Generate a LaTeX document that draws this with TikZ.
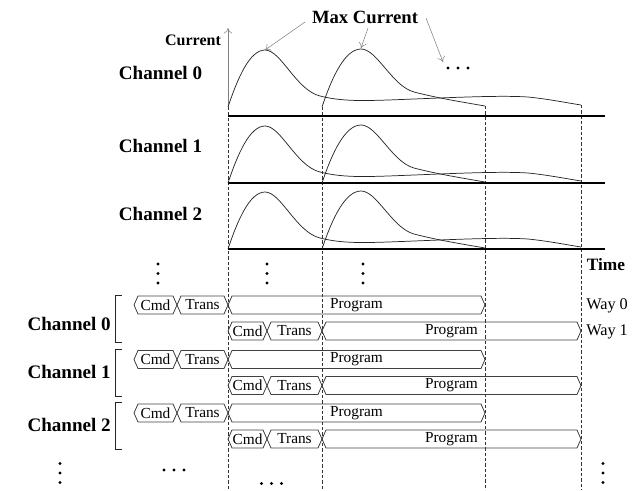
\documentclass[tikz,border=0pt]{standalone}
\usepackage{fontspec}
\setmainfont{Liberation Serif}
\usetikzlibrary{arrows.meta}
\begin{document}
\begin{tikzpicture}[x=0.75pt,y=-0.75pt,
  chlabel/.style={font=\fontsize{14.3}{16}\selectfont\bfseries, inner sep=0pt},
  smalllabel/.style={font=\fontsize{12}{14}\selectfont\bfseries, inner sep=0pt},
  waylabel/.style={font=\fontsize{12.2}{14}\selectfont, inner sep=0pt, anchor=west},
  bustext/.style={font=\fontsize{11.5}{13}\selectfont, inner sep=0pt},
  busline/.style={draw=black!75, line width=0.6pt, line join=miter},
  wave/.style={draw=black!85, line width=0.55pt},
  baseline/.style={draw=black, line width=1.4pt},
  guide/.style={draw=black!80, line width=0.5pt, dash pattern=on 2.4pt off 1.6pt},
  pointer/.style={draw=black!50, line width=0.4pt, -{To[length=4pt,width=6pt]}},
  bracket/.style={draw=black!85, line width=0.6pt},
  pulseA/.pic={\draw[wave] (0,0) .. controls (10,-30) and (22,-57) .. (37,-57)
      .. controls (53,-57) and (68,-17) .. (92,-11)
      .. controls (112,-6) and (130,-6) .. (160,-7)
      .. controls (215,-9) and (270,-12) .. (300,-10)
      .. controls (320,-8) and (340,-4) .. (353,-2);},
  pulseB/.pic={\draw[wave] (0,0) .. controls (10,-30) and (23,-58) .. (39,-58)
      .. controls (55,-58) and (70,-21) .. (92,-15)
      .. controls (115,-9) and (140,-5) .. (163,-1);},
]
\useasboundingbox (0,0) rectangle (638,490);

% dot marks: vertical and horizontal ellipses
\newcommand\vdotmark[2]{\foreach \d in {-9.5,0,9.5} \fill (#1,#2+\d) circle[radius=1.15pt];}
\newcommand\hdotmark[2]{\foreach \d in {-10,0,10} \fill (#1+\d,#2) circle[radius=1.15pt];}
% one hexagonal bus segment: x1, x2, centre y, name, text
\newcommand\busseg[5]{%
  \draw[busline] (#1,#3) -- (#1+4,#3-9) -- (#2-4,#3-9) -- (#2,#3)
     -- (#2-4,#3+9) -- (#1+4,#3+9) -- cycle;
  \node[bustext] (#4) at ({(#1+#2)/2},#3) {#5};}
% two ways of one channel: way-0 centre y, way-1 centre y, name prefix
\newcommand\channelrows[3]{%
  \busseg{134}{177}{#1}{#3cmdA}{Cmd}
  \busseg{177}{228}{#1}{#3trA}{Trans}
  \busseg{228}{485}{#1}{#3prA}{Program}
  \busseg{228}{267}{#2}{#3cmdB}{Cmd}
  \busseg{267}{322}{#2}{#3trB}{Trans}
  \busseg{322}{581}{#2}{#3prB}{Program}}

% time guides
\draw[guide] (228,107) -- (228,490);
\draw[guide] (322,107) -- (322,490);
\draw[guide] (485,106) -- (485,490);
\draw[guide] (581,105) -- (581,490);

% current axis
\coordinate (axbot) at (228,107);
\coordinate (axtop) at (228,28);
\draw[pointer] (axbot) -- (axtop);
\node[smalllabel] (curlab) at (193,40) {Current};

% channel baselines
\draw[baseline] (228,116) -- (605,116);
\draw[baseline] (228,183) -- (605,183);
\draw[baseline] (228,249) -- (605,249);

% current pulses
\pic at (228,107) {pulseA};
\pic at (322,107) {pulseB};
\pic at (228,183) {pulseA};
\pic at (322,183) {pulseB};
\pic at (228,249) {pulseA};
\pic at (322,249) {pulseB};

% peak annotations
\node[chlabel, font=\fontsize{14}{16}\selectfont\bfseries] (maxc) at (365,17) {Max Current};
\coordinate (p1) at (265,50);
\coordinate (p2) at (361,48);
\coordinate (p3) at (443,62);
\coordinate (s1) at (305,22);
\coordinate (s2) at (368,28);
\coordinate (s3) at (426,18);
\draw[pointer] (s1) -- (p1);
\draw[pointer] (s2) -- (p2);
\draw[pointer] (s3) -- (p3);
\hdotmark{458}{68}

% channel names (current view)
\node[chlabel] (c0) at (160.5,73) {Channel 0};
\node[chlabel] (c1) at (160.5,146) {Channel 1};
\node[chlabel] (c2) at (160.5,214) {Channel 2};
\vdotmark{158}{273.5}
\vdotmark{267}{273.5}
\vdotmark{363}{273.5}
\node[chlabel, font=\fontsize{13}{15}\selectfont\bfseries] (tlab) at (606,265) {Time};

% operation timeline
\channelrows{305}{331}{a}
\channelrows{359.5}{385.5}{b}
\channelrows{413}{439}{c}

\draw[bracket] (122,295) -- (115,295) -- (115,342) -- (122,342);
\draw[bracket] (122,349) -- (115,349) -- (115,396) -- (122,396);
\draw[bracket] (122,402) -- (115,402) -- (115,449) -- (122,449);
\node[chlabel, anchor=east] (d0) at (111,324) {Channel 0};
\node[chlabel, anchor=east] (d1) at (111,372) {Channel 1};
\node[chlabel, anchor=east] (d2) at (111,425) {Channel 2};

\node[waylabel] (w0) at (586,306) {Way 0};
\node[waylabel] (w1) at (586,332) {Way 1};

\vdotmark{60}{473}
\vdotmark{603}{473}
\hdotmark{174}{470}
\hdotmark{271.5}{483.5}
\end{tikzpicture}
\end{document}
